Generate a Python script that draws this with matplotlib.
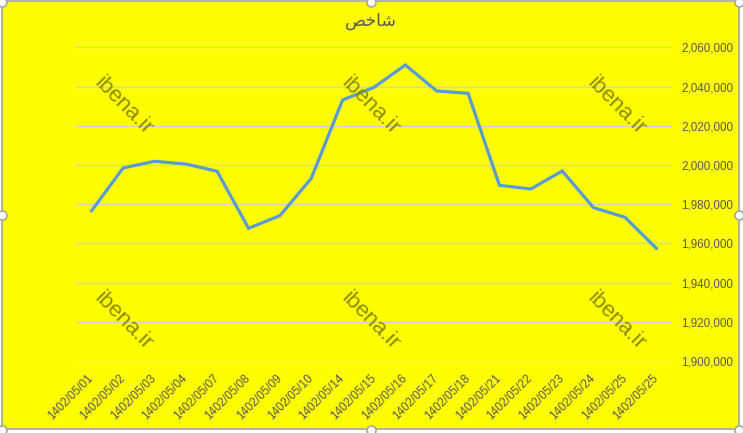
import matplotlib
matplotlib.use('Agg')
import numpy as np
from matplotlib import pyplot as plt
from matplotlib.lines import Line2D
from matplotlib.patches import Rectangle
from matplotlib.ticker import FuncFormatter

dates = ['1402/05/01', '1402/05/02', '1402/05/03', '1402/05/04', '1402/05/07',
         '1402/05/08', '1402/05/09', '1402/05/10', '1402/05/14', '1402/05/15',
         '1402/05/16', '1402/05/17', '1402/05/18', '1402/05/21', '1402/05/22',
         '1402/05/23', '1402/05/24', '1402/05/25', '1402/05/25']
index_values = [1976660, 1998440, 2001860, 2000480, 1996750,
                1967680, 1974110, 1993180, 2033120, 2039590,
                2050970, 2037710, 2036530, 1989610, 1987730,
                1996910, 1978190, 1973290, 1957480]
y_ticks = [1900000, 1920000, 1940000, 1960000, 1980000,
           2000000, 2020000, 2040000, 2060000]

# title "شاخص" written in shaped presentation forms (visual order),
# since matplotlib does not join arabic letters by itself
title = '\uFEBA\uFEA7\uFE8E\uFEB7'
watermark = 'ibena.ir'

W, H = 743, 433
fig = plt.figure(figsize=(W / 100, H / 100), dpi=100)
fig.patch.set_facecolor('white')

# yellow chart area with grey border
fig.add_artist(Rectangle((2 / W, 1 - 429 / H), 737 / W, 428 / H,
                         transform=fig.transFigure, facecolor='#FFFF00',
                         edgecolor='#A6A6A6', linewidth=1.2, zorder=0))

ax = fig.add_axes([76 / W, (H - 361) / H, 596 / W, 313.7 / H])
ax.set_facecolor('none')

x = np.arange(len(dates))
ax.plot(x, index_values, color='#5B9BD5', linewidth=2.3, solid_joinstyle='miter', zorder=3)

ax.set_xlim(-0.5, len(dates) - 0.5)
ax.set_ylim(y_ticks[0], y_ticks[-1])
ax.set_yticks(y_ticks)
ax.yaxis.set_major_formatter(FuncFormatter(lambda v, p: '{:,.0f}'.format(v)))
ax.yaxis.tick_right()
ax.grid(axis='y', color='#D0D0D0', linewidth=1.0)
ax.set_axisbelow(True)
for s in ax.spines.values():
    s.set_visible(False)

ax.set_xticks(x)
ax.set_xticklabels(dates, rotation=45, ha='right', va='center', rotation_mode='anchor')
ax.tick_params(axis='x', length=0, pad=11, labelsize=8.4, labelcolor='#595959')
ax.tick_params(axis='y', length=0, pad=6.5, labelsize=8.4, labelcolor='#595959')
for lab in ax.get_xticklabels() + ax.get_yticklabels():
    lab.set_family('Liberation Sans')

fig.text(371 / W, 1 - 21 / H, title, ha='center', va='center', fontsize=12.5,
         color='#595959', family='DejaVu Sans')

# watermarks
for wx in [123, 370, 616]:
    for wy in [106, 321]:
        fig.text(wx / W, 1 - wy / H, watermark, rotation=-45, ha='center', va='center',
                 fontsize=16, color='#8C8C00', family='Liberation Sans', zorder=1)

# selection handles
for hx in [2, 371, 739]:
    for hy in [2, 215, 430]:
        if hx == 371 and hy == 215:
            continue
        fig.add_artist(Line2D([hx / W], [1 - hy / H], marker='o', markersize=6.5,
                              markerfacecolor='white', markeredgecolor='#A6A6A6',
                              markeredgewidth=1.2, transform=fig.transFigure, zorder=5))

fig.savefig('out.png', dpi=100)
